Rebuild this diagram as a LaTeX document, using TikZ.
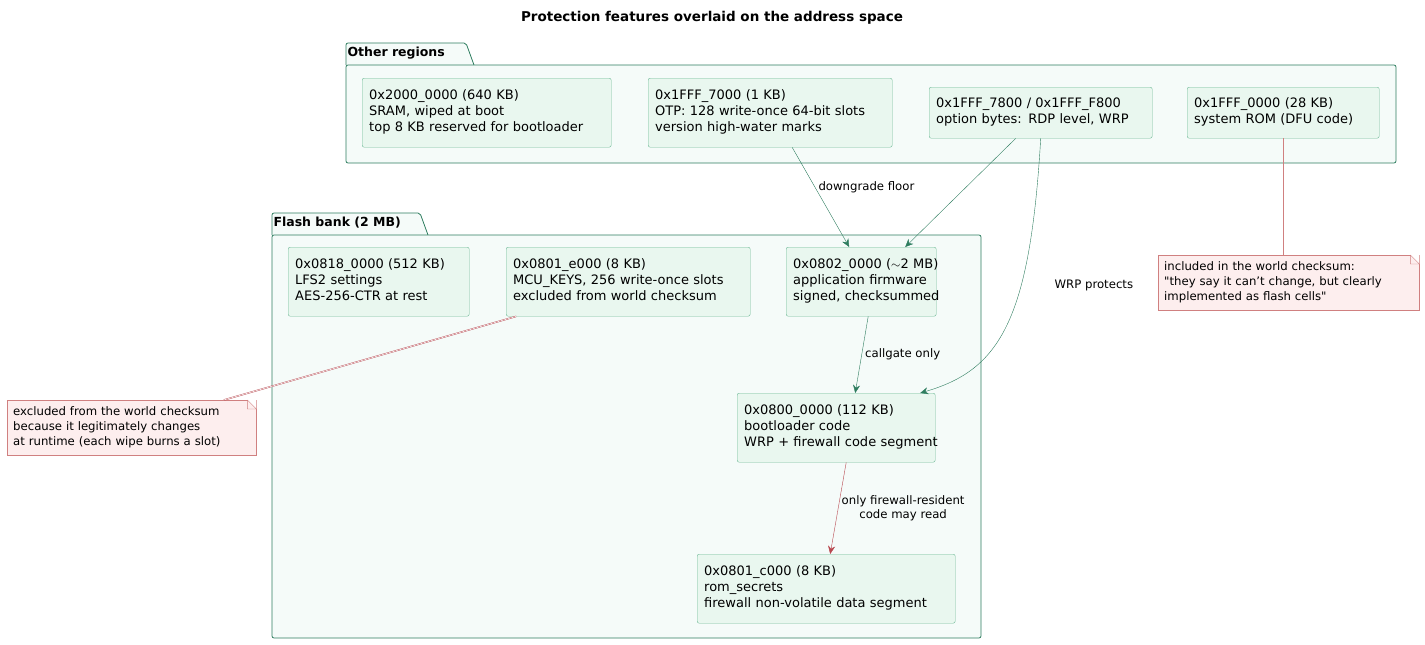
\documentclass[tikz,border=0pt]{standalone}
\usepackage{fontspec}
\setmainfont{DejaVu Sans}
\usetikzlibrary{arrows.meta, positioning, calc}
\definecolor{pkgline}{RGB}{46, 125, 95}
\definecolor{pkgfill}{RGB}{245, 251, 249}
\definecolor{boxline}{RGB}{110, 185, 150}
\definecolor{boxfill}{RGB}{233, 247, 239}
\definecolor{arrgreen}{RGB}{46, 125, 95}
\definecolor{arrred}{RGB}{184, 72, 80}
\definecolor{notefill}{RGB}{253, 238, 238}
\definecolor{noteline}{RGB}{208, 128, 128}
\newcommand{\celllines}[1]{\begin{tabular}{@{}l@{}}#1\end{tabular}}

\begin{document}
\begin{tikzpicture}[
    x=1pt, y=-1pt,
    region/.style={rectangle, rounded corners=2pt, draw=boxline, fill=boxfill, anchor=north west, align=left, inner xsep=7pt, text width=#1-14pt, font=\fontsize{13}{16}\selectfont},
    pkg/.style={draw=pkgline, thick, fill=pkgfill, rounded corners=2pt},
    note/.style={draw=noteline, fill=notefill, align=left, anchor=north west, inner xsep=6pt, text width=#1-12pt, font=\fontsize{11.7}{15}\selectfont},
    arrow/.style={-{Stealth[length=8pt, width=7pt]}, draw=arrgreen},
    redarrow/.style={-{Stealth[length=8pt, width=7pt]}, draw=arrred},
    lbl/.style={font=\fontsize{11.7}{14}\selectfont, align=center}
]
    \useasboundingbox (0,0) rectangle (1425,645);
    \node[font=\bfseries\fontsize{13.5}{15}\selectfont] (title) at (712,18) {Protection features overlaid on the address space};

    % Other regions
    \draw[pkg] (346,65) -- (346,43) -- (466,43) -- (474,65);
    \draw[pkg] (346,65) rectangle (1396,163);
    \node[anchor=west, font=\bfseries\fontsize{12.5}{14}\selectfont] (othertab) at (344,53) {Other regions};

    \node[region=249pt, minimum height=69] (sram) at (362,78) {\celllines{0x2000\_0000 (640 KB)\\SRAM, wiped at boot\\top 8 KB reserved for bootloader}};
    \node[region=244pt, minimum height=69] (otp) at (648,78) {\celllines{0x1FFF\_7000 (1 KB)\\OTP: 128 write-once 64-bit slots\\version high-water marks}};
    \node[region=223pt, minimum height=51] (optb) at (929,87) {\celllines{0x1FFF\_7800 / 0x1FFF\_F800\\option bytes: RDP level, WRP}};
    \node[region=192pt, minimum height=51] (rom) at (1187,87) {\celllines{0x1FFF\_0000 (28 KB)\\system ROM (DFU code)}};

    % Flash bank
    \draw[pkg] (272,235) -- (272,213) -- (420,213) -- (428,235);
    \draw[pkg] (272,235) rectangle (981,638);
    \node[anchor=west, font=\bfseries\fontsize{12.5}{14}\selectfont] (flashtab) at (270,223) {Flash bank (2 MB)};

    \node[region=181pt, minimum height=69] (lfs) at (288,247) {\celllines{0x0818\_0000 (512 KB)\\LFS2 settings\\AES-256-CTR at rest}};
    \node[region=244pt, minimum height=69] (keys) at (506,247) {\celllines{0x0801\_e000 (8 KB)\\MCU\_KEYS, 256 write-once slots\\excluded from world checksum}};
    \node[region=150pt, minimum height=69] (app) at (786,247) {\celllines{0x0802\_0000 ($\sim$2 MB)\\application firmware\\signed, checksummed}};
    \node[region=198pt, minimum height=69] (boot) at (737,393) {\celllines{0x0800\_0000 (112 KB)\\bootloader code\\WRP + firewall code segment}};
    \node[region=258pt, minimum height=69] (secrets) at (697,554) {\celllines{0x0801\_c000 (8 KB)\\rom\_secrets\\firewall non-volatile data segment}};

    % Notes
    \node[note=249pt, minimum height=55] (keynote) at (7,400) {excluded from the world checksum\\because it legitimately changes\\at runtime (each wipe burns a slot)};
    \node[note=261pt, minimum height=55] (romnote) at (1158,255) {included in the world checksum:\\\textquotedbl they say it can't change, but clearly\\implemented as flash cells\textquotedbl};
    \fill[white] (keynote.north east) ++(-9,0) -- ++(9,9) -- ++(0,-9) -- cycle;
    \draw[noteline] (keynote.north east) ++(-9,0) -- ++(0,9) -- ++(9,0) -- ++(-9,-9);
    \fill[white] (romnote.north east) ++(-9,0) -- ++(9,9) -- ++(0,-9) -- cycle;
    \draw[noteline] (romnote.north east) ++(-9,0) -- ++(0,9) -- ++(9,0) -- ++(-9,-9);

    % Arrows
    \draw[arrow] ($(otp.south)+(22,0)$) -- node[lbl, right, pos=0.4] {downgrade floor} ($(app.north)+(-12,0)$);
    \draw[arrow] ($(optb.south)+(-25,0)$) -- ($(app.north)+(44,0)$);
    \draw[arrow] (optb.south) .. controls (1030,320) and (1000,370) .. node[lbl, pos=0.35, right=30pt] {WRP protects} ($(boot.north)+(84,0)$);
    \draw[arrow] ($(app.south)+(7,0)$) -- node[lbl, right] {callgate only} ($(boot.north)+(19,0)$);
    \draw[redarrow] ($(boot.south)+(10,0)$) -- node[lbl, right, pos=0.5] {only firewall-resident\\code may read} ($(secrets.north)+(4,0)$);
    \draw[arrred, double, double distance=0.6pt, thin] ($(keys.south)+(-112,0)$) -- ($(keynote.north)+(92,0)$);
    \draw[draw=noteline] (rom.south) -- (romnote.north -| rom.south);
\end{tikzpicture}
\end{document}
